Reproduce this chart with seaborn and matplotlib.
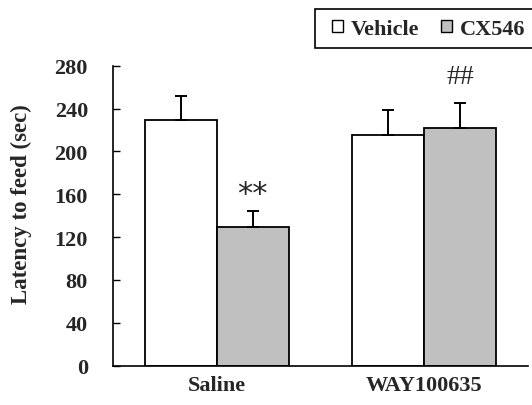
import matplotlib
matplotlib.use("Agg")
import matplotlib.pyplot as plt
import seaborn as sns
import pandas as pd
import numpy as np
from matplotlib.patches import Patch, Rectangle
from matplotlib.ticker import FixedLocator

categories = ["Saline", "WAY100635"]
treatments = ["Vehicle", "CX546"]
vehicle_means = [229, 215]
cx546_means = [129, 222]
vehicle_err = [23, 24]
cx546_err = [15, 23]
y_ticks = [0, 40, 80, 120, 160, 200, 240, 280]
colors = ["#ffffff", "#c0c0c0"]

df = pd.DataFrame({
    "group": categories * 2,
    "treatment": [treatments[0]] * 2 + [treatments[1]] * 2,
    "value": vehicle_means + cx546_means,
    "err": vehicle_err + cx546_err,
})

sns.set_style("white")
plt.rcParams["font.family"] = ["Liberation Serif", "DejaVu Serif"]

fig = plt.figure(figsize=(5.32, 4.06), dpi=100)
ax = fig.add_axes([0.2124, 0.0968, 0.7801, 0.7389])

sns.barplot(data=df, x="group", y="value", hue="treatment", order=categories,
            hue_order=treatments, palette=colors, edgecolor="black", linewidth=1.3,
            width=0.694, errorbar=None, ax=ax, legend=False)

# error bars from bar positions
for cont, means, errs in zip(ax.containers, [vehicle_means, cx546_means], [vehicle_err, cx546_err]):
    xs = [p.get_x() + p.get_width() / 2 for p in cont.patches]
    ax.errorbar(xs, means, yerr=[np.zeros(len(errs)), errs], fmt="none",
                ecolor="black", elinewidth=1.4, capsize=4.5, capthick=1.4, zorder=1)

# significance marks
c2 = ax.containers[1].patches
ax.text(c2[0].get_x() + c2[0].get_width() / 2, cx546_means[0] + cx546_err[0] + 17, "**",
        ha="center", va="center", fontsize=22, family="DejaVu Sans")
ax.text(c2[1].get_x() + c2[1].get_width() / 2, cx546_means[1] + cx546_err[1] + 25, "##",
        ha="center", va="center", fontsize=20)

ax.set_xlim(-0.5, 1.5)
ax.set_ylim(0, 280)
ax.set_yticks(y_ticks)
ax.set_yticklabels([str(t) for t in y_ticks], fontsize=16, fontweight="bold")
ax.set_xticks(range(len(categories)))
ax.set_xticklabels(categories, fontsize=16, fontweight="bold")
ax.xaxis.set_minor_locator(FixedLocator([0.5, 1.5]))
ax.tick_params(axis="x", which="major", length=0, pad=7)
ax.tick_params(axis="x", which="minor", direction="in", length=5, width=1, color="black")
ax.tick_params(axis="y", direction="in", length=5, width=1, color="black", pad=18, left=True)
ax.set_xlabel("")
ax.set_ylabel("Latency to feed (sec)", fontsize=16.5, fontweight="bold")
ax.yaxis.set_label_coords(-0.195, 0.542)

for s in ["top", "right"]:
    ax.spines[s].set_visible(False)
for s in ["left", "bottom"]:
    ax.spines[s].set_color("black")
    ax.spines[s].set_linewidth(1.2)

# legend frame
W, H = 532.0, 406.0
fig.patches.append(Rectangle((315 / W, 1 - 49 / H), 222 / W, 39 / H, transform=fig.transFigure,
                             facecolor="white", edgecolor="black", linewidth=1.2, zorder=5))
handles = [Patch(facecolor=c, edgecolor="black", linewidth=1) for c in colors]
leg = fig.legend(handles, treatments, loc="center left", bbox_to_anchor=(332 / W, 1 - 30 / H),
                 ncol=2, frameon=False, prop={"weight": "bold", "size": 16},
                 handlelength=0.5, handleheight=0.5, handletextpad=0.35,
                 columnspacing=0.95, borderpad=0, borderaxespad=0)
leg.set_zorder(6)

fig.savefig("out.png", dpi=100)
